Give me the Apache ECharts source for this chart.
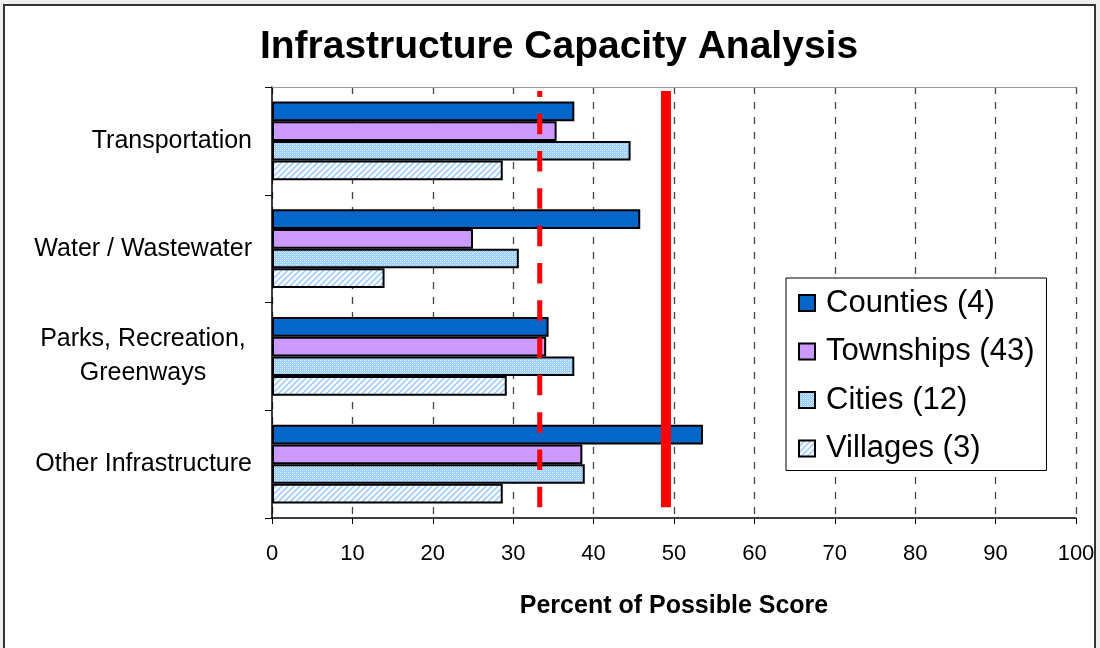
<!DOCTYPE html>
<html>
<head>
<meta charset="utf-8">
<script src="https://cdn.jsdelivr.net/npm/echarts@6/dist/echarts.min.js"></script>
<style>
html,body{margin:0;padding:0;background:#eeeeee;}
#chart{width:1100px;height:648px;}
</style>
</head>
<body>
<div id="chart"></div>
<script>
// ---- data ----
const categories = ['Transportation', 'Water / Wastewater', 'Parks, Recreation,\nGreenways', 'Other Infrastructure'];
const seriesNames = ['Counties (4)', 'Townships (43)', 'Cities (12)', 'Villages (3)'];
const counties  = [37.6, 45.8, 34.4, 53.6];
const townships = [35.4, 25.0, 34.1, 38.6];
const cities    = [44.6, 30.7, 37.6, 38.9];
const villages  = [28.7, 14.0, 29.2, 28.7];
const refDashed = 33.3;   // dashed red reference line (x value)
const refSolid  = 49.0;   // solid red reference line (x value)
const xTicks = [0, 100, 10];

// ---- patterns ----
function makeCheck() {
  const c = document.createElement('canvas'); c.width = 4; c.height = 4;
  const g = c.getContext('2d');
  g.fillStyle = '#99ccff'; g.fillRect(0, 0, 4, 4);
  g.fillStyle = '#d4eaff';
  g.fillRect(0, 0, 1, 1); g.fillRect(2, 2, 1, 1); g.fillRect(2, 0, 1, 1); g.fillRect(0, 2, 1, 1);
  g.fillStyle = '#b8dcff';
  g.fillRect(1, 1, 1, 1); g.fillRect(3, 3, 1, 1);
  return c;
}
function makeDiag() {
  const c = document.createElement('canvas'); c.width = 6; c.height = 6;
  const g = c.getContext('2d');
  g.fillStyle = '#ffffff'; g.fillRect(0, 0, 6, 6);
  g.strokeStyle = '#9fcdff'; g.lineWidth = 1.6;
  g.beginPath();
  g.moveTo(-1, 7); g.lineTo(7, -1);
  g.moveTo(-4, 4); g.lineTo(4, -4);
  g.moveTo(2, 10); g.lineTo(10, 2);
  g.stroke();
  return c;
}
const fills = ['#0466c8', '#cc99ff', {image: makeCheck(), repeat: 'repeat'}, {image: makeDiag(), repeat: 'repeat'}];
const values = [counties, townships, cities, villages];

const chart = echarts.init(document.getElementById('chart'), null, {renderer: 'canvas'});
const FONT = 'Liberation Sans, Arial, sans-serif';

const barSeries = seriesNames.map((n, i) => ({
  name: n, type: 'bar', xAxisIndex: 0, yAxisIndex: 0,
  data: values[i],
  barGap: '0%', barCategoryGap: '27%',
  itemStyle: {color: fills[i], borderColor: '#000', borderWidth: 2},
  emphasis: {disabled: true}
}));

const lineSeries = [
  {type: 'line', xAxisIndex: 0, yAxisIndex: 1, symbol: 'none', silent: true,
   data: [[refDashed, 2.5], [refDashed, 99.1]],
   lineStyle: {color: '#ff0000', width: 5, type: [20.5, 16.8]}, z: 5},
  {type: 'line', xAxisIndex: 0, yAxisIndex: 1, symbol: 'none', silent: true,
   data: [[refSolid, 2.5], [refSolid, 99.1]],
   lineStyle: {color: '#ff0000', width: 10}, z: 5}
];

chart.setOption({
  animation: false,
  backgroundColor: 'transparent',
  graphic: [{
    type: 'rect', z: -10, silent: true,
    shape: {x: 4, y: 5, width: 1091, height: 670},
    style: {fill: '#ffffff', stroke: '#333333', lineWidth: 2}
  }],
  title: {
    text: 'Infrastructure Capacity Analysis',
    left: 554, top: 23, textAlign: 'center',
    textStyle: {fontFamily: FONT, fontSize: 39, fontWeight: 'bold', color: '#000'}
  },
  legend: {
    data: seriesNames,
    orient: 'vertical', left: 786, top: 278,
    icon: 'rect', itemWidth: 16, itemHeight: 16, itemGap: 14.5,
    padding: [8, 12, 5, 12],
    backgroundColor: '#ffffff', borderColor: '#000', borderWidth: 1,
    textStyle: {fontFamily: FONT, fontSize: 31, color: '#000', lineHeight: 34, padding: [0, 0, 0, 6]},
    selectedMode: false
  },
  grid: {left: 272, right: 24, top: 87, bottom: 130, containLabel: false},
  xAxis: [{
    type: 'value', min: xTicks[0], max: xTicks[1], interval: xTicks[2], position: 'bottom',
    name: 'Percent of Possible Score', nameLocation: 'middle', nameGap: 76,
    nameTextStyle: {fontFamily: FONT, fontSize: 25, fontWeight: 'bold', color: '#000'},
    axisLine: {show: true, lineStyle: {color: '#000', width: 1.5}},
    axisTick: {show: true, length: 6, lineStyle: {color: '#000', width: 1}},
    axisLabel: {fontFamily: FONT, fontSize: 22, color: '#000', margin: 25},
    splitLine: {show: true, lineStyle: {color: '#444', width: 1.3, type: [7, 8]}}
  }, {
    type: 'value', min: xTicks[0], max: xTicks[1], position: 'top',
    axisLine: {show: true, lineStyle: {color: '#9a9a9a', width: 1}},
    axisTick: {show: false}, axisLabel: {show: false}, splitLine: {show: false}
  }],
  yAxis: [{
    type: 'category', data: categories, inverse: true,
    axisLine: {show: true, lineStyle: {color: '#000', width: 1.5}},
    axisTick: {show: true, length: 7, lineStyle: {color: '#000'}},
    axisLabel: {
      fontFamily: FONT, fontSize: 25, color: '#000', margin: 20, lineHeight: 34,
      formatter: v => v.indexOf('\n') >= 0 ? v.split('\n').map(s => '{c|' + s + '}').join('\n') : v,
      rich: {c: {fontFamily: FONT, fontSize: 25, color: '#000', width: 218, align: 'center', lineHeight: 34}}
    },
    splitLine: {show: false}
  }, {
    type: 'value', min: 0, max: 100, show: false
  }],
  series: barSeries.concat(lineSeries)
});
</script>
</body>
</html>
